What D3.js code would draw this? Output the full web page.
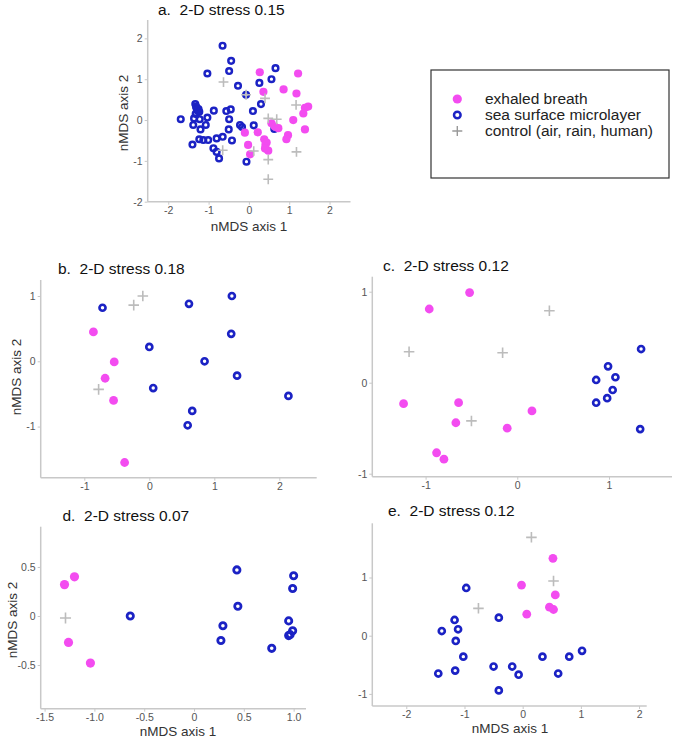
<!DOCTYPE html>
<html><head><meta charset="utf-8">
<script src="https://cdn.jsdelivr.net/npm/d3@7"></script>
<style>
html,body{margin:0;padding:0;background:#fff;}
svg{display:block;font-family:"Liberation Sans",Arial,sans-serif;}
text{white-space:pre;}
</style></head>
<body><svg id="c" width="675" height="743"></svg>
<script>
// ---------- DATA ----------
const seriesNames = ["exhaled breath", "sea surface microlayer", "control (air, rain, human)"];

const aTitle = "a.  2-D stress 0.15";
const aBreath = [[0.27,1.17],[1.22,1.14],[0.36,0.69],[0.86,0.75],[1.18,0.65],[1.39,0.3],[1.47,0.33],[1.35,0.16],[1.1,0.0],[0.56,-0.08],[0.64,-0.16],[0.73,-0.2],[1.39,-0.23],[-0.1,-0.31],[0.22,-0.3],[0.97,-0.37],[0.93,-0.47],[0.38,-0.47],[0.41,-0.61],[-0.02,-0.61],[0.48,-0.75],[0.03,-0.84],[0.44,-0.55],[0.4,-0.7]];
const aSea = [[-0.653,1.82],[-0.44,1.45],[-0.49,1.2],[-1.03,1.14],[0.66,1.27],[0.56,1.0],[0.26,0.91],[-0.27,0.84],[-0.07,0.62],[0.3,0.39],[0.1,0.22],[-1.33,0.39],[-1.3,0.3],[-1.28,0.24],[-1.23,0.2],[-1.32,0.15],[-1.29,0.28],[-1.26,0.22],[-1.31,0.33],[-1.25,0.27],[-0.87,0.23],[-0.56,0.22],[-0.45,0.26],[-1.69,0.02],[-1.36,0.04],[-1.22,0.02],[-1.03,0.06],[-0.49,0.02],[-1.38,-0.12],[-1.07,-0.12],[-1.2,-0.23],[-0.5,-0.23],[-0.22,-0.12],[-0.17,-0.17],[0.12,-0.13],[0.63,-0.22],[-1.4,-0.6],[-1.23,-0.47],[-1.13,-0.49],[-1.01,-0.49],[-0.8,-0.45],[-0.65,-0.41],[-0.42,-0.5],[-0.88,-0.69],[-0.8,-0.78],[-0.74,-0.94],[-0.06,-1.02]];
const aControl = [[-0.63,0.93],[0.4,0.53],[1.17,0.37],[0.48,0.04],[0.69,0.02],[-0.07,0.62],[-0.65,-0.74],[0.12,-0.76],[1.18,-0.78],[0.48,-0.97],[0.48,-1.45]];
const aXTicks = [-2,-1,0,1,2];
const aYTicks = [-2,-1,0,1,2];

const bTitle = "b.  2-D stress 0.18";
const bBreath = [[-0.86,0.45],[-0.54,-0.01],[-0.68,-0.26],[-0.55,-0.6],[-0.38,-1.55]];
const bSea = [[-0.72,0.82],[0.61,0.88],[1.27,1.0],[1.26,0.42],[0.0,0.22],[0.85,0.0],[1.35,-0.22],[0.06,-0.41],[2.14,-0.53],[0.66,-0.76],[0.59,-0.98]];
const bControl = [[-0.24,0.86],[-0.1,1.0],[-0.78,-0.43]];
const bXTicks = [-1,0,1,2];
const bYTicks = [-1,0,1];

const cTitle = "c.  2-D stress 0.12";
const cBreath = [[-0.52,0.99],[-0.96,0.81],[-1.24,-0.23],[-0.64,-0.22],[-0.67,-0.44],[-0.88,-0.77],[-0.8,-0.84],[-0.11,-0.5],[0.16,-0.31]];
const cSea = [[1.35,0.37],[0.99,0.18],[1.07,0.06],[0.86,0.03],[1.04,-0.08],[0.98,-0.17],[0.86,-0.22],[1.34,-0.51]];
const cControl = [[0.35,0.79],[-1.18,0.34],[-0.16,0.33],[-0.5,-0.42]];
const cXTicks = [-1,0,1];
const cYTicks = [-1,0,1];

const dTitle = "d.  2-D stress 0.07";
const dBreath = [[-1.2,0.4],[-1.3,0.32],[-1.26,-0.27],[-1.04,-0.48]];
const dSea = [[-0.64,0.0],[0.43,0.47],[0.44,0.1],[0.29,-0.1],[0.27,-0.25],[1.0,0.41],[0.99,0.28],[0.95,-0.05],[0.99,-0.15],[0.95,-0.2],[0.965,-0.19],[0.78,-0.33]];
const dControl = [[-1.29,-0.02]];
const dXTicks = [-1.5,-1.0,-0.5,0,0.5,1.0];
const dXTickLabels = ["-1.5","-1.0","-0.5","0","0.5","1.0"];
const dYTicks = [-0.5,0,0.5];
const dYTickLabels = ["-0.5","0","0.5"];

const eTitle = "e.  2-D stress 0.12";
const eBreath = [[0.52,1.33],[-0.02,0.87],[0.56,0.7],[0.46,0.49],[0.53,0.45],[0.07,0.37]];
const eSea = [[-0.97,0.82],[-0.41,0.31],[-1.17,0.27],[-1.11,0.11],[-1.39,0.08],[-1.15,-0.09],[-1.02,-0.36],[-1.45,-0.65],[-1.16,-0.6],[-0.5,-0.53],[-0.18,-0.53],[-0.07,-0.67],[-0.41,-0.94],[0.34,-0.36],[0.8,-0.36],[1.02,-0.26],[0.61,-0.65]];
const eControl = [[0.15,1.69],[0.53,0.94],[-0.76,0.47]];
const eXTicks = [-2,-1,0,1,2];
const eYTicks = [-1,0,1];

const xAxisTitle = "nMDS axis 1";
const yAxisTitle = "nMDS axis 2";

// ---------- STYLE ----------
const PINK = "#f34cf0";
const BLUE = "#1b22c4";
const GREY = "#bcbcbc";
const AXIS = "#c8c8c8";
const TICKTXT = "#555";

const svg = d3.select("#c");

function panel(cfg){
  const x = d3.scaleLinear().domain(cfg.xDom).range(cfg.xPx);
  const y = d3.scaleLinear().domain(cfg.yDom).range(cfg.yPx);
  const g = svg.append("g");
  const fx = cfg.xFmt || (d=>String(d));
  const fy = cfg.yFmt || (d=>String(d));
  const xa = d3.axisBottom(x).tickValues(cfg.xTicks).tickFormat((d,i)=>fx(d,i)).tickSize(3).tickPadding(2);
  const gx = g.append("g").attr("transform",`translate(0,${cfg.yPx[0]})`).call(xa);
  gx.select(".domain").attr("stroke",AXIS).attr("stroke-width",1.5).attr("d",`M${cfg.xPx[0]},0H${cfg.xPx[1]}`);
  gx.selectAll(".tick line").attr("stroke",AXIS);
  gx.selectAll(".tick text").attr("fill",TICKTXT).attr("font-size",10.5).attr("font-family","Liberation Sans, Arial, sans-serif");
  const ya = d3.axisLeft(y).tickValues(cfg.yTicks).tickFormat((d,i)=>fy(d,i)).tickSize(3).tickPadding(2);
  const gy = g.append("g").attr("transform",`translate(${cfg.xPx[0]},0)`).call(ya);
  gy.select(".domain").attr("stroke",AXIS).attr("stroke-width",1.5).attr("d",`M0,${cfg.yPx[0]}V${cfg.yPx[1]}`);
  gy.selectAll(".tick line").attr("stroke",AXIS);
  gy.selectAll(".tick text").attr("fill",TICKTXT).attr("font-size",10.5).attr("font-family","Liberation Sans, Arial, sans-serif");

  g.append("text").attr("x",cfg.titleXY[0]).attr("y",cfg.titleXY[1]).attr("font-size",15.5).attr("fill","#111").text(cfg.title);
  if(cfg.xTitleXY){
    g.append("text").attr("x",cfg.xTitleXY[0]).attr("y",cfg.xTitleXY[1]).attr("text-anchor","middle").attr("font-size",13.5).attr("fill","#333").text(xAxisTitle);
  }
  if(cfg.yTitleXY){
    g.append("text").attr("transform",`translate(${cfg.yTitleXY[0]},${cfg.yTitleXY[1]}) rotate(-90)`).attr("text-anchor","middle").attr("font-size",13.5).attr("fill","#333").text(yAxisTitle);
  }
  const rr = cfg.r;
  g.append("g").selectAll("circle").data(cfg.sea).join("circle")
    .attr("cx",d=>x(d[0])).attr("cy",d=>y(d[1])).attr("r",rr*0.69)
    .attr("fill","none").attr("stroke",BLUE).attr("stroke-width",rr*0.6);
  g.append("g").selectAll("circle").data(cfg.breath).join("circle")
    .attr("cx",d=>x(d[0])).attr("cy",d=>y(d[1])).attr("r",rr)
    .attr("fill",PINK);
  const s = rr*1.2;
  g.append("g").selectAll("path").data(cfg.control).join("path")
    .attr("d",d=>`M${x(d[0])-s},${y(d[1])}H${x(d[0])+s}M${x(d[0])},${y(d[1])-s}V${y(d[1])+s}`)
    .attr("stroke",GREY).attr("stroke-width",1.6).attr("fill","none");
}

panel({title:aTitle, titleXY:[158,15], xPx:[147.7,350.5], yPx:[201.7,20], xDom:[-2.51,2.52], yDom:[-2,2.45],
  xTicks:aXTicks, yTicks:aYTicks, xTitleXY:[249,231], yTitleXY:[128,113], breath:aBreath, sea:aSea, control:aControl, r:4.1});
panel({title:bTitle, titleXY:[58,274], xPx:[40.7,316.7], yPx:[477.7,280], xDom:[-1.671,2.575], yDom:[-1.783,1.245],
  xTicks:bXTicks, yTicks:bYTicks, yTitleXY:[21,377], breath:bBreath, sea:bSea, control:bControl, r:4.4});
panel({title:cTitle, titleXY:[383,270.5], xPx:[372.3,672], yPx:[476.7,276.7], xDom:[-1.581,1.687], yDom:[-1.033,1.165],
  xTicks:cXTicks, yTicks:cYTicks, breath:cBreath, sea:cSea, control:cControl, r:4.4});
panel({title:dTitle, titleXY:[62.5,520.5], xPx:[40.7,306], yPx:[708.7,526.7], xDom:[-1.539,1.124], yDom:[-0.946,0.911],
  xTicks:dXTicks, yTicks:dYTicks, xFmt:(d,i)=>dXTickLabels[i], yFmt:(d,i)=>dYTickLabels[i],
  xTitleXY:[178,735.5], yTitleXY:[16.5,620], breath:dBreath, sea:dSea, control:dControl, r:4.6});
panel({title:eTitle, titleXY:[388,516], xPx:[372.3,646.7], yPx:[706,523.3], xDom:[-2.584,2.131], yDom:[-1.208,1.931],
  xTicks:eXTicks, yTicks:eYTicks, xTitleXY:[510,733], breath:eBreath, sea:eSea, control:eControl, r:4.4});

// legend
const lg = svg.append("g");
lg.append("rect").attr("x",431).attr("y",70).attr("width",238).attr("height",108).attr("fill","#fff").attr("stroke","#333").attr("stroke-width",1.2);
const rowsY = [99,115,131];
seriesNames.forEach((name,i)=>{
  const cy = rowsY[i], cx = 457.3;
  if(i===0) lg.append("circle").attr("cx",cx).attr("cy",cy).attr("r",4.6).attr("fill",PINK);
  if(i===1) lg.append("circle").attr("cx",cx).attr("cy",cy).attr("r",3.3).attr("fill","none").attr("stroke",BLUE).attr("stroke-width",2.5);
  if(i===2) lg.append("path").attr("d",`M${cx-5},${cy}H${cx+5}M${cx},${cy-5}V${cy+5}`).attr("stroke","#999").attr("stroke-width",1.4);
  lg.append("text").attr("x",485).attr("y",cy+5.3).attr("font-size",15.5).attr("fill","#222").text(name);
});
</script></body></html>
